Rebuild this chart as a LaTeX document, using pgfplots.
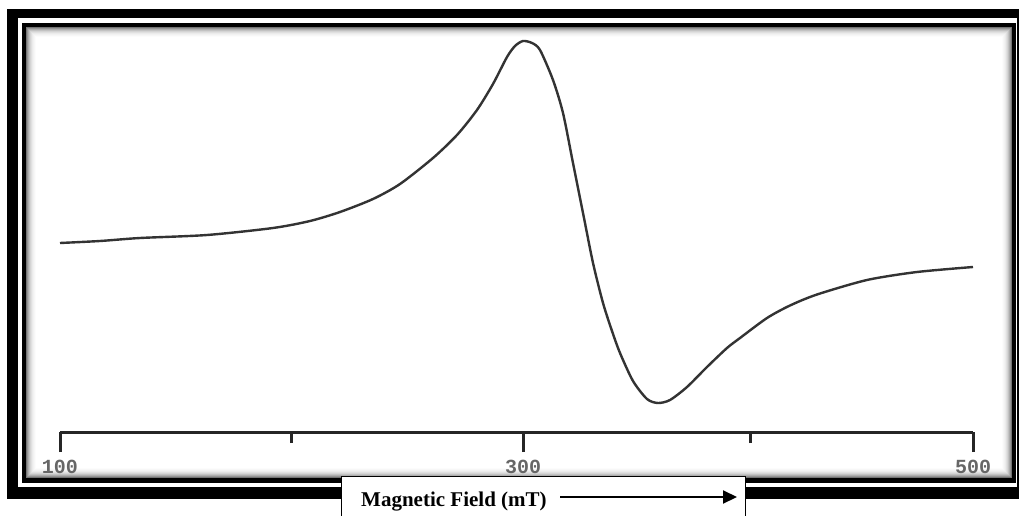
\documentclass[border=0pt]{standalone}
\usepackage{pgfplots}
\pgfplotsset{compat=1.18}
\usepackage{fontspec}
\setmainfont{Liberation Serif}
\newfontfamily\monof{Liberation Mono}
\usetikzlibrary{arrows.meta}
\begin{document}
\begin{tikzpicture}[x=1pt,y=1pt]
\useasboundingbox (0,0) rectangle (1019,-516);
\clip (0,0) rectangle (1019,-516);
\fill[white] (0,0) rectangle (1019,-516);
% frame
\fill[black] (7,-9) rectangle (1030,-499);
\fill[white] (18,-18.5) rectangle (1017,-487);
\fill[black] (22,-23) rectangle (1016,-483);
\fill[white] (26,-27) rectangle (1012,-478);
\foreach \i/\c in {0/55,1/42,2/32,3/24,4/17,5/12,6/8,7/5,8/3,9/1} {
  \draw[black!\c, line width=1pt] (26.5+\i,-27.5-\i) rectangle (1011.5-\i,-477.5+\i);
}
\begin{axis}[
  at={(60pt,-432pt)}, anchor=south west,
  scale only axis, width=913pt, height=402pt,
  xmin=100, xmax=500, ymin=-192, ymax=210,
  clip=false,
  axis x line=bottom, axis y line=none,
  axis line style={-, line width=3pt, black!85},
  xtick={100,302.85,500},
  xticklabels={100,300,500},
  tick align=outside,
  major tick length=20pt,
  tick style={line width=3pt, black!85},
  extra x ticks={201.6,402.7},
  extra x tick labels={},
  extra x tick style={major tick length=11pt},
  xticklabel style={font=\monof\bfseries\fontsize{20}{20}\selectfont, text=black!60, yshift=-5pt},
  ytick=\empty,
]
\addplot[black!80, line width=2.4pt, smooth, tension=0.45] coordinates {
(100,-3) (117.52,-1) (135.05,2) (164.40,5) (193.32,12) (209.53,19)
(222.67,28) (237.13,41) (248.96,56) (263.42,82) (273.93,105) (282.69,130)
(289.70,156) (295.84,183) (299.34,194) (302.85,199) (306.79,197) (310.30,190)
(315.99,160) (320.37,127) (324.75,77) (329.14,27) (333.52,-23) (337.90,-63)
(341.84,-91) (345.35,-113) (351.04,-141) (357.17,-159) (361.99,-163)
(367.25,-160) (374.70,-147) (383.46,-127) (392.22,-108) (397.92,-98)
(409.75,-78) (419.82,-65.5) (431.65,-54.5) (453.56,-40) (475.47,-32) (500,-27)
};
\end{axis}
% label box
\draw[black, line width=1pt, fill=white] (341,-476) rectangle (745,-530);
\node[anchor=base west, inner sep=0pt, font=\bfseries\fontsize{21}{24}\selectfont] at (361,-506) {Magnetic Field (mT)};
\draw[line width=2pt, -{Triangle[length=14pt,width=13pt]}] (560,-497) -- (737,-497);
\end{tikzpicture}
\end{document}
